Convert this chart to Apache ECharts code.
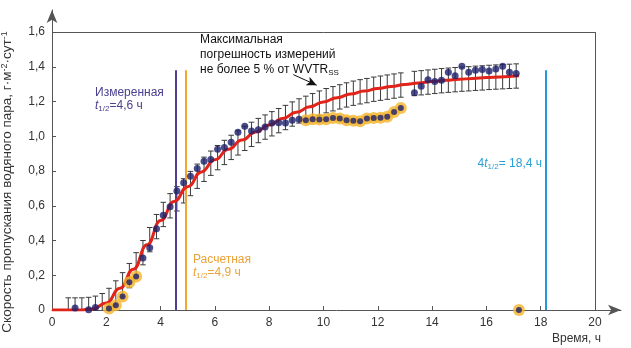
<!DOCTYPE html>
<html><head><meta charset="utf-8">
<script src="https://cdn.jsdelivr.net/npm/echarts@6/dist/echarts.min.js"></script>
<style>html,body{margin:0;padding:0;background:#fff}#c{width:631px;height:348px}</style>
</head><body><div id="c"></div>
<script>
// ---- data ----
const xTicks = [0, 2, 4, 6, 8, 10, 12, 14, 16, 18, 20];
const yTicks = [0, 0.2, 0.4, 0.6, 0.8, 1.0, 1.2, 1.4, 1.6];

// model curve (red)
const curveX = [0, 0.5, 1.0, 1.5, 2.0, 2.5, 3.0, 3.5, 4.0, 4.5, 5.0, 5.5, 6.0, 6.5, 7.0, 7.5, 8.0, 8.5, 9.0, 9.5, 10.0, 10.5, 11.0, 11.5, 12.0, 12.5, 13.0, 13.5, 14.0, 14.5, 15.0, 15.5, 16.0, 16.5, 17.2];
const curveY = [0, 0, 0, 0.006, 0.04, 0.125, 0.235, 0.375, 0.515, 0.625, 0.71, 0.795, 0.865, 0.925, 0.978, 1.025, 1.065, 1.103, 1.138, 1.17, 1.198, 1.222, 1.243, 1.26, 1.275, 1.287, 1.298, 1.307, 1.315, 1.322, 1.328, 1.333, 1.338, 1.342, 1.348];

// measured points (dark blue)
const blueX = [0.85, 1.35, 1.6, 3.35, 3.6, 3.85, 4.1, 4.35, 4.6, 4.85, 5.1, 5.35, 5.6, 5.85, 6.1, 6.35, 6.6, 6.85, 7.1, 7.35, 7.6, 7.85, 8.1, 8.35, 8.6, 8.85, 9.1,
  13.35, 13.6, 13.85, 14.1, 14.35, 14.6, 14.85, 15.1, 15.35, 15.6, 15.85, 16.1, 16.35, 16.6, 16.85, 17.1];
const blueY = [0.012, 0.002, 0.014, 0.3, 0.358, 0.468, 0.545, 0.595, 0.685, 0.732, 0.77, 0.814, 0.856, 0.866, 0.925, 0.936, 0.965, 1.023, 1.058, 1.031, 1.037, 1.053, 1.076, 1.078, 1.076, 1.092, 1.098,
  1.251, 1.288, 1.326, 1.315, 1.322, 1.368, 1.349, 1.403, 1.368, 1.38, 1.384, 1.376, 1.387, 1.403, 1.368, 1.361];

// flagged points (ringed in orange)
const flagX = [2.1, 2.35, 2.6, 2.85, 3.1, 9.35, 9.6, 9.85, 10.1, 10.35, 10.6, 10.85, 11.1, 11.35, 11.6, 11.85, 12.1, 12.35, 12.6, 12.85, 17.2];
const flagY = [0.008, 0.028, 0.077, 0.16, 0.193, 1.092, 1.098, 1.096, 1.098, 1.105, 1.102, 1.092, 1.09, 1.086, 1.102, 1.105, 1.107, 1.113, 1.14, 1.163, 0];

// error bars: centre on the curve at each measurement time, half width 5 % of WVTRss
const errX = [0.6, 0.85, 1.1, 1.35, 1.6, 1.85, 2.1, 2.35, 2.6, 2.85, 3.1, 3.35, 3.6, 3.85, 4.1, 4.35, 4.6, 4.85, 5.1, 5.35, 5.6, 5.85, 6.1, 6.35, 6.6, 6.85, 7.1, 7.35, 7.6, 7.85, 8.1, 8.35, 8.6, 8.85, 9.1, 9.35, 9.6, 9.85, 10.1, 10.35, 10.6, 10.85, 11.1, 11.35, 11.6, 11.85, 12.1, 12.35, 12.6, 12.85,
  13.35, 13.6, 13.85, 14.1, 14.35, 14.6, 14.85, 15.1, 15.35, 15.6, 15.85, 16.1, 16.35, 16.6, 16.85, 17.1];
const errC = [0, 0, 0, 0.003, 0.01, 0.025, 0.055, 0.098, 0.145, 0.198, 0.26, 0.33, 0.405, 0.48, 0.55, 0.6, 0.64, 0.686, 0.728, 0.77, 0.81, 0.845, 0.877, 0.907, 0.936, 0.962, 0.988, 1.011, 1.033, 1.053, 1.072, 1.09, 1.108, 1.128, 1.146, 1.161, 1.176, 1.191, 1.205, 1.216, 1.227, 1.238, 1.248, 1.256, 1.263, 1.271, 1.277, 1.283, 1.289, 1.295,
  1.304, 1.308, 1.312, 1.316, 1.32, 1.323, 1.326, 1.329, 1.331, 1.334, 1.336, 1.339, 1.341, 1.343, 1.345, 1.347];
const errHalf = 0.07;

// reference lines
const tMeasured = 4.57, tCalc = 4.92, t4 = 18.2, refTop = 1.38;
const boxX = 20, boxY = 1.6;
const arrowFrom = [8.89, 1.355], arrowTo = [9.75, 1.294];

// ---- chart ----
const FONT = '"Liberation Sans", Arial, sans-serif';
const chart = echarts.init(document.getElementById('c'), null, {renderer: 'canvas'});
const zip = (a, b) => a.map((v, i) => [v, b[i]]);
const fmtY = v => v === 0 ? '0' : v.toFixed(1).replace('.', ',');
const fmtX = v => String(Math.round(v));

const subRich = (color, fs) => ({
  n: {fontSize: fs, fontFamily: FONT, color: color, lineHeight: fs + 2},
  i: {fontSize: fs, fontFamily: FONT, color: color, fontStyle: 'italic', lineHeight: fs + 2},
  s: {fontSize: Math.round(fs * 0.68), fontFamily: FONT, color: color, lineHeight: 8, verticalAlign: 'bottom'},
  sup: {fontSize: Math.round(fs * 0.68), fontFamily: FONT, color: color, lineHeight: 8, verticalAlign: 'top'}
});

function txt(x, y, text, color, align, rot, fs) {
  fs = fs || 12;
  return {
    type: 'text', x: x, y: y, rotation: rot || 0, z: 100,
    style: {text: text, rich: subRich(color, fs), fill: color, font: fs + 'px ' + FONT,
      align: align || 'left', verticalAlign: 'middle', textAlign: align || 'left', textVerticalAlign: 'middle'}
  };
}

const option = {
  animation: false,
  backgroundColor: '#fff',
  grid: {left: 52, right: 10, top: 10, bottom: 38},
  xAxis: {
    type: 'value', min: 0, max: 20.96, interval: 2,
    axisLine: {show: true, symbol: ['none', 'arrow'], symbolSize: [8, 13], lineStyle: {color: '#555', width: 1}},
    axisTick: {show: true, inside: true, length: 4, customValues: xTicks, lineStyle: {color: '#555'}},
    axisLabel: {customValues: xTicks, color: '#333', fontSize: 12, fontFamily: FONT, margin: 7, formatter: fmtX},
    splitLine: {show: false}
  },
  yAxis: {
    type: 'value', min: 0, max: 1.727, interval: 0.2,
    axisLine: {show: true, symbol: ['none', 'arrow'], symbolSize: [8, 13], lineStyle: {color: '#555', width: 1}},
    axisTick: {show: true, inside: true, length: 4, customValues: yTicks, lineStyle: {color: '#555'}},
    axisLabel: {customValues: yTicks, color: '#333', fontSize: 12, fontFamily: FONT, margin: 7, formatter: fmtY},
    splitLine: {show: false}
  },
  series: [
    {
      type: 'custom', name: 'err', clip: false, z: 2,
      data: zip(errX, errC),
      encode: {x: 0, y: 1},
      renderItem: function (params, api) {
        const x = api.value(0), c = api.value(1);
        const lo = Math.max(0, c - errHalf), hi = c + errHalf;
        const pt = api.coord([x, hi]), pb = api.coord([x, lo]);
        const w = 2.8, st = {stroke: '#3a3a3a', lineWidth: 1};
        const ch = [
          {type: 'line', shape: {x1: pt[0], y1: pt[1], x2: pb[0], y2: pb[1]}, style: st},
          {type: 'line', shape: {x1: pt[0] - w, y1: pt[1], x2: pt[0] + w, y2: pt[1]}, style: st}
        ];
        if (lo > 0) ch.push({type: 'line', shape: {x1: pb[0] - w, y1: pb[1], x2: pb[0] + w, y2: pb[1]}, style: st});
        return {type: 'group', children: ch};
      }
    },
    {
      type: 'line', name: 'box', data: [], z: 1,
      markLine: {
        silent: true, symbol: ['none', 'none'], label: {show: false},
        lineStyle: {color: '#555', width: 1, type: 'solid'},
        data: [
          [{coord: [0, boxY]}, {coord: [boxX, boxY]}],
          [{coord: [boxX, 0]}, {coord: [boxX, boxY]}]
        ]
      }
    },
    {
      type: 'line', name: 'refs', data: [], z: 3,
      markLine: {
        silent: true, symbol: ['none', 'none'], label: {show: false},
        data: [
          [{coord: [tMeasured, 0], lineStyle: {color: '#4b4190', width: 2, type: 'solid'}}, {coord: [tMeasured, refTop]}],
          [{coord: [tCalc, 0], lineStyle: {color: '#f0a630', width: 2, type: 'solid'}}, {coord: [tCalc, refTop]}],
          [{coord: [t4, 0], lineStyle: {color: '#1f9ad8', width: 2, type: 'solid'}}, {coord: [t4, refTop]}]
        ]
      }
    },
    {
      type: 'line', name: 'arrow', data: [], z: 4,
      markLine: {
        silent: true, symbol: ['none', 'arrow'], symbolSize: [7, 10], label: {show: false},
        lineStyle: {color: '#111', width: 1, type: 'solid'},
        data: [[{coord: arrowFrom}, {coord: arrowTo}]]
      }
    },
    {
      type: 'line', name: 'model', data: zip(curveX, curveY), z: 5,
      smooth: 0.5, smoothMonotone: 'x', showSymbol: false,
      lineStyle: {color: '#e2231a', width: 3}
    },
    {
      type: 'scatter', name: 'flagRing', data: zip(flagX, flagY), z: 6,
      symbolSize: 12, itemStyle: {color: '#f4b429'}
    },
    {
      type: 'scatter', name: 'flagDot', data: zip(flagX, flagY), z: 7,
      symbolSize: 6, itemStyle: {color: '#1d1f6b'}
    },
    {
      type: 'scatter', name: 'meas', data: zip(blueX, blueY), z: 7,
      symbolSize: 7, itemStyle: {color: '#1d1f6b'}
    }
  ],
  graphic: [
    txt(7.5, 182, '{n|Скорость пропускания водяного пара, г·м}{sup|-2}{n|·сут}{sup|-1}', '#333', 'center', Math.PI / 2, 13.5),
    txt(601, 339, '{n|Время, ч}', '#333', 'right'),
    txt(95, 93, '{n|Измеренная}', '#4b4190', 'left'),
    txt(95, 106, '{i|t}{s|1/2}{n|=4,6 ч}', '#4b4190', 'left'),
    txt(193, 260, '{n|Расчетная}', '#eba238', 'left'),
    txt(193, 273, '{i|t}{s|1/2}{n|=4,9 ч}', '#eba238', 'left'),
    txt(542, 164, '{n|4}{i|t}{s|1/2}{n|= 18,4 ч}', '#2a9fd8', 'right'),
    txt(200, 40, '{n|Максимальная}', '#111', 'left'),
    txt(200, 55, '{n|погрешность измерений}', '#111', 'left'),
    txt(200, 70, '{n|не более 5 % от WVTR}{s|SS}', '#111', 'left')
  ]
};
chart.setOption(option);
</script>
</body></html>
